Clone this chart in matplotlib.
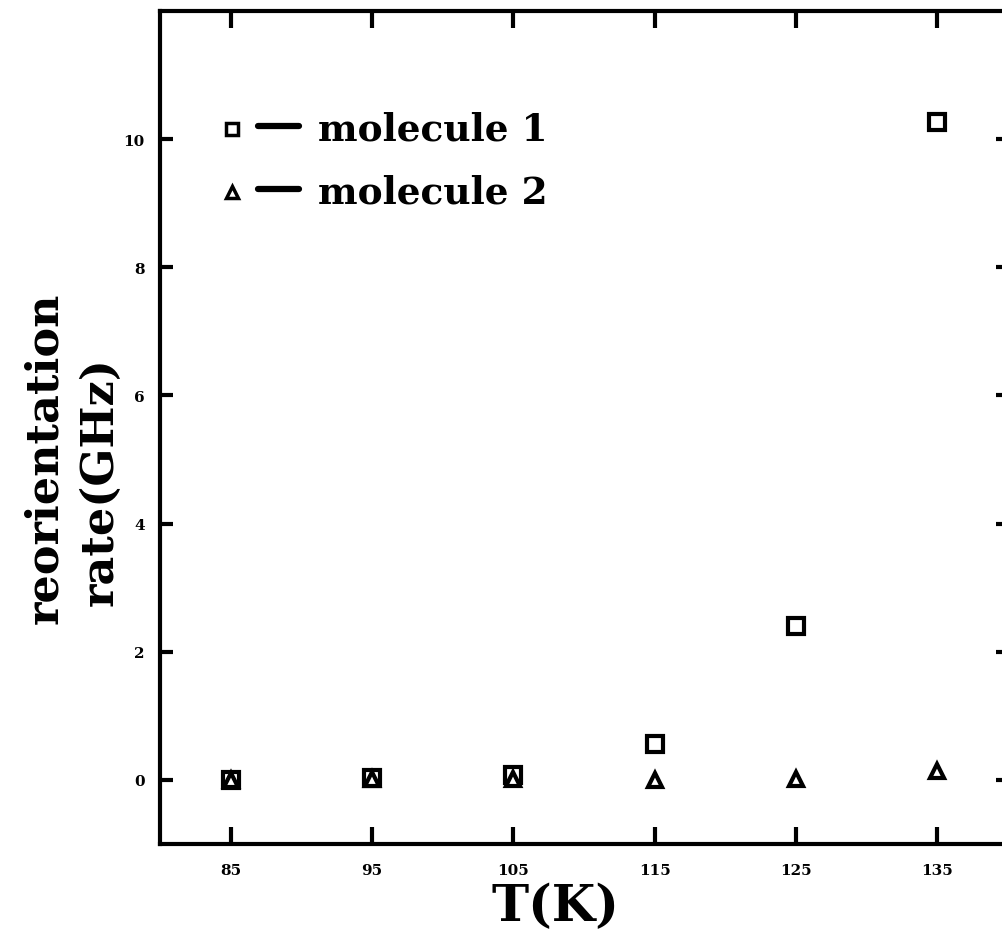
import matplotlib
matplotlib.use("Agg")
import matplotlib.pyplot as plt

temps = [85, 95, 105, 115, 125, 135]
mol1 = [0.0, 0.03, 0.07, 0.56, 2.4, 10.27]
mol2 = [0.0, 0.01, 0.02, 0.0, 0.02, 0.14]
xticks = [85, 95, 105, 115, 125, 135]
yticks = [0, 2, 4, 6, 8, 10]
legend_labels = ['molecule 1', 'molecule 2']

fig = plt.figure(figsize=(10.03, 9.37), dpi=100)
ax = fig.add_axes([160/1003, 1-845/937, 848/1003, (845-12)/937])
ax.set_xlim(80, 140)
ax.set_ylim(-1, 12)

ax.plot(temps, mol1, linestyle='none', marker='s', markersize=11,
        markerfacecolor='white', markeredgecolor='black', markeredgewidth=3)
ax.plot(temps, mol2, linestyle='none', marker='^', markersize=10,
        markerfacecolor='white', markeredgecolor='black', markeredgewidth=3)

for s in ax.spines.values():
    s.set_linewidth(3)
ax.set_xticks(xticks)
ax.set_yticks(yticks)
ax.tick_params(direction='in', length=12, width=3, top=True, right=True,
               labelsize=11, pad=14)
ax.tick_params(axis='y', length=9, pad=11)
for lab in ax.get_xticklabels() + ax.get_yticklabels():
    lab.set_fontweight('bold')
    lab.set_family('DejaVu Serif')

# legend text
rows = [(10.16, 's', 9), (9.17, '^', 8)]
for (yy, mk, ms), txt in zip(rows, legend_labels):
    ax.plot([85.1], [yy], linestyle='none', marker=mk, markersize=ms,
            markerfacecolor='white', markeredgecolor='black', markeredgewidth=2.5)
    ax.plot([86.9, 89.8], [yy + 0.05, yy + 0.05], color='black', linewidth=4.5,
            solid_capstyle='round')
    ax.text(91.2, yy, txt, fontsize=27, fontweight='bold', family='DejaVu Serif',
            va='center', ha='left')

fig.text(555/1003, 1-908/937, 'T(K)', fontsize=36, fontweight='bold',
         family='DejaVu Serif', ha='center', va='center')
fig.text(45/1003, 1-458/937, 'reorientation', rotation=90, fontsize=32,
         fontweight='bold', family='DejaVu Serif', ha='center', va='center')
fig.text(100/1003, 1-482/937, 'rate(GHz)', rotation=90, fontsize=32,
         fontweight='bold', family='DejaVu Serif', ha='center', va='center')

fig.savefig('out.png', dpi=100)
